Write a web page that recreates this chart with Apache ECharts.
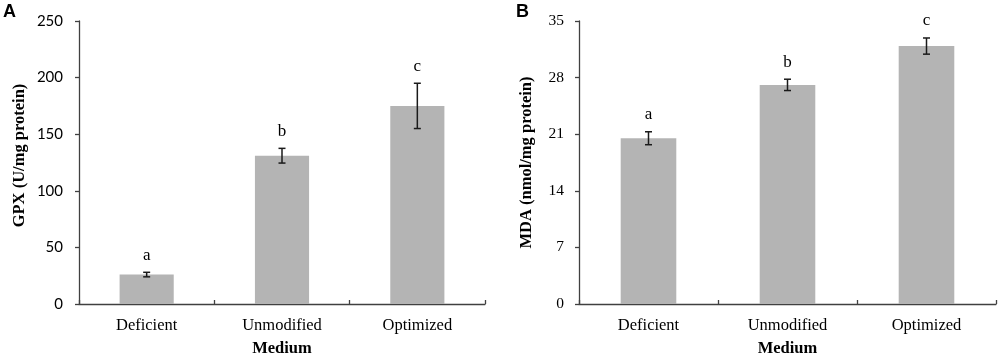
<!DOCTYPE html>
<html>
<head>
<meta charset="utf-8">
<script src="https://cdn.jsdelivr.net/npm/echarts@6/dist/echarts.min.js"></script>
<style>
  html, body { margin: 0; padding: 0; background: #fff; }
  #chart { width: 1000px; height: 362px; }
</style>
</head>
<body>
<div id="chart"></div>
<script>
var categories = ['Deficient', 'Unmodified', 'Optimized'];
var gpxValues = [26, 131, 175];
var gpxErrors = [2, 6.5, 20];
var gpxLetters = ['a', 'b', 'c'];
var mdaValues = [20.5, 27.1, 31.9];
var mdaErrors = [0.8, 0.7, 1.0];
var mdaLetters = ['a', 'b', 'c'];
var gpxTicks = { min: 0, max: 250, interval: 50 };
var mdaTicks = { min: 0, max: 35, interval: 7 };

var serif = '"Liberation Serif", "Times New Roman", serif';
var axisColor = '#404040';
var barColor = '#b4b4b4';

function errorSeries(axisIdx, values, errors, letters) {
  return {
    type: 'custom',
    xAxisIndex: axisIdx,
    yAxisIndex: axisIdx,
    data: values.map(function (v, i) { return [i, v, errors[i]]; }),
    z: 10,
    renderItem: function (params, api) {
      var i = api.value(0), v = api.value(1), e = api.value(2);
      var top = api.coord([i, v + e]);
      var bot = api.coord([i, v - e]);
      var hw = 3.5;
      return {
        type: 'group',
        children: [
          { type: 'line', shape: { x1: top[0], y1: top[1], x2: bot[0], y2: bot[1] }, style: { stroke: '#1a1a1a', lineWidth: 1.5 } },
          { type: 'line', shape: { x1: top[0] - hw, y1: top[1], x2: top[0] + hw, y2: top[1] }, style: { stroke: '#1a1a1a', lineWidth: 1.5 } },
          { type: 'line', shape: { x1: bot[0] - hw, y1: bot[1], x2: bot[0] + hw, y2: bot[1] }, style: { stroke: '#1a1a1a', lineWidth: 1.5 } },
          { type: 'text', x: top[0], y: top[1] - 17, style: { text: letters[params.dataIndex], font: '17px ' + serif, fill: '#000', align: 'center', verticalAlign: 'middle' } }
        ]
      };
    }
  };
}

var chart = echarts.init(document.getElementById('chart'), null, { renderer: 'canvas' });
chart.setOption({
  animation: false,
  backgroundColor: '#fff',
  graphic: [
    { type: 'text', left: 3, top: 3, style: { text: 'A', font: 'bold 18px "Liberation Sans", Arial, sans-serif', fill: '#000' } },
    { type: 'text', left: 516, top: 3, style: { text: 'B', font: 'bold 18px "Liberation Sans", Arial, sans-serif', fill: '#000' } }
  ],
  grid: [
    { left: 79, right: 515, top: 21, bottom: 53 },
    { left: 579, right: 4, top: 21, bottom: 53 }
  ],
  xAxis: [0, 1].map(function (k) {
    return {
      type: 'category',
      gridIndex: k,
      data: categories,
      name: 'Medium',
      nameLocation: 'middle',
      nameGap: 36,
      nameTextStyle: { fontFamily: serif, fontWeight: 'bold', fontSize: 16.5, color: '#000' },
      axisLine: { lineStyle: { color: axisColor, width: 1.3 } },
      axisTick: { show: true, inside: true, length: 4, lineStyle: { color: axisColor, width: 1.3 } },
      axisLabel: { fontFamily: serif, fontSize: 16.5, color: '#000', margin: 13 }
    };
  }),
  yAxis: [
    {
      type: 'value', gridIndex: 0,
      min: gpxTicks.min, max: gpxTicks.max, interval: gpxTicks.interval,
      name: 'GPX (U/mg protein)',
      nameLocation: 'middle', nameGap: 51, nameRotate: 90,
      nameTextStyle: { fontFamily: serif, fontWeight: 'bold', fontSize: 16.5, color: '#000', padding: [0, 0, 0, 14] },
      axisLine: { show: true, lineStyle: { color: axisColor, width: 1.3 } },
      axisTick: { show: true, length: 4, lineStyle: { color: axisColor, width: 1.3 } },
      splitLine: { show: false },
      axisLabel: { fontFamily: 'Lato, "Open Sans", sans-serif', fontSize: 15, color: '#000', margin: 16 }
    },
    {
      type: 'value', gridIndex: 1,
      min: mdaTicks.min, max: mdaTicks.max, interval: mdaTicks.interval,
      name: 'MDA (nmol/mg protein)',
      nameLocation: 'middle', nameGap: 44, nameRotate: 90,
      nameTextStyle: { fontFamily: serif, fontWeight: 'bold', fontSize: 16.5, color: '#000' },
      axisLine: { show: true, lineStyle: { color: axisColor, width: 1.3 } },
      axisTick: { show: true, length: 4, lineStyle: { color: axisColor, width: 1.3 } },
      splitLine: { show: false },
      axisLabel: { fontFamily: serif, fontSize: 15.5, color: '#000', margin: 15 }
    }
  ],
  series: [
    { type: 'bar', xAxisIndex: 0, yAxisIndex: 0, data: gpxValues, barCategoryGap: '60%', itemStyle: { color: barColor } },
    { type: 'bar', xAxisIndex: 1, yAxisIndex: 1, data: mdaValues, barCategoryGap: '60%', itemStyle: { color: barColor } },
    errorSeries(0, gpxValues, gpxErrors, gpxLetters),
    errorSeries(1, mdaValues, mdaErrors, mdaLetters)
  ]
});
</script>
</body>
</html>
